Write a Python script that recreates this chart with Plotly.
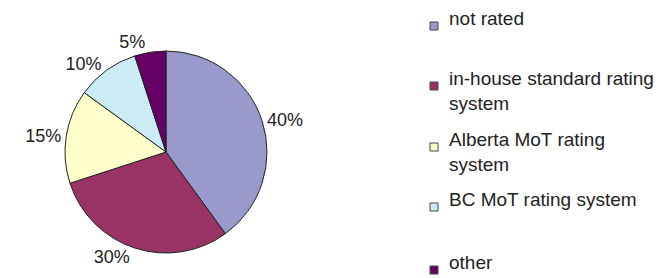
import plotly.graph_objects as go

labels = ["not rated", "in-house standard rating<br>system", "Alberta MoT rating<br>system",
          "BC MoT rating system", "other"]
values = [40, 30, 15, 10, 5]
colors = ["#9999CC", "#993366", "#FFFFCC", "#CCECF5", "#660066"]
# legend text first-line vertical positions (px from top)
legend_y_px = [18, 78, 139, 199, 262]

W, H = 667, 278

fig = go.Figure()
fig.add_trace(go.Pie(
    labels=labels, values=values, sort=False, direction="clockwise", rotation=0,
    marker=dict(colors=colors, line=dict(color="#222222", width=1)),
    texttemplate="%{percent:.0%}", textposition="outside",
    outsidetextfont=dict(family="Liberation Sans, Arial", size=18, color="#222222"),
    showlegend=False, hoverinfo="label+percent",
    domain=dict(x=[57 / W, 259 / W], y=[(H - 245) / H, (H - 43) / H]),
))

shapes = []
annotations = []
for lab, col, ypx in zip(labels, colors, legend_y_px):
    shapes.append(dict(type="rect", xref="paper", yref="paper",
                       x0=422 / W, x1=430 / W, y0=(H - ypx - 4) / H, y1=(H - ypx + 4) / H,
                       fillcolor=col, line=dict(color="#444444", width=1)))
    annotations.append(dict(xref="paper", yref="paper", x=439 / W, y=(H - ypx + 20) / H,
                            xanchor="left", yanchor="top", align="left", showarrow=False,
                            text=lab,
                            font=dict(family="Liberation Sans, Arial", size=19, color="#222222")))

fig.update_layout(
    width=W, height=H, margin=dict(l=0, r=0, t=0, b=0),
    paper_bgcolor="white", plot_bgcolor="white",
    shapes=shapes, annotations=annotations,
)
fig.write_html("out.html")
